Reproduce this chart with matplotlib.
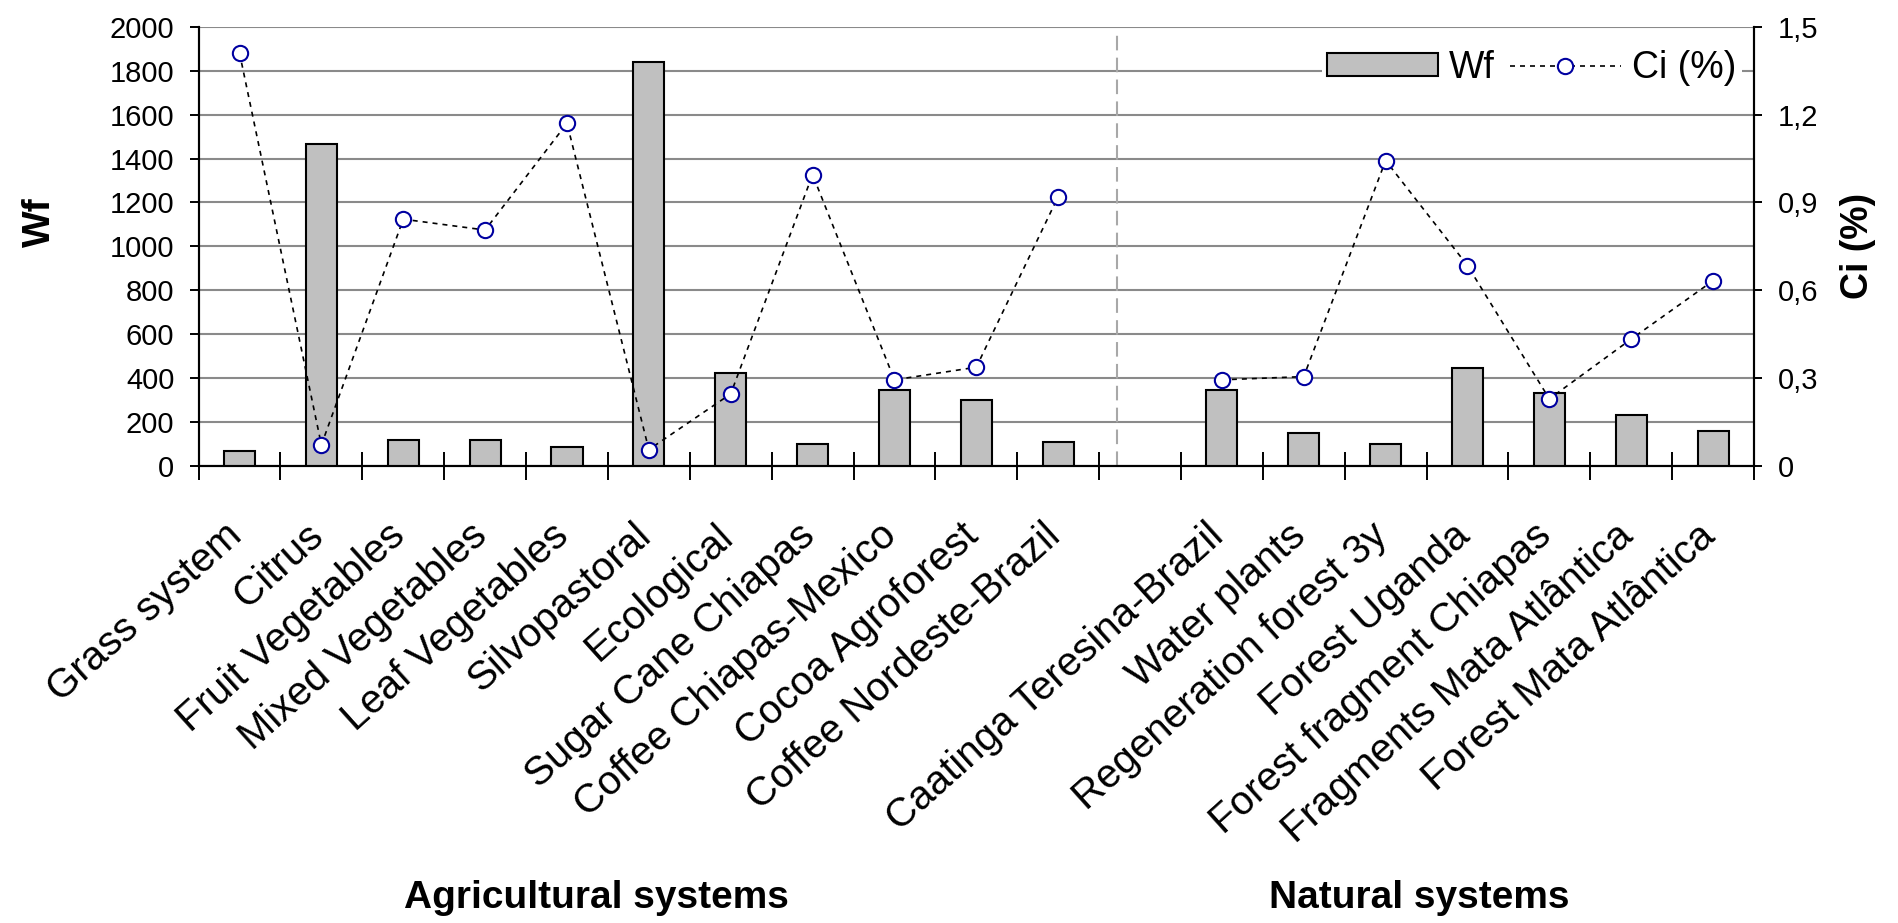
import numpy as np
import matplotlib
matplotlib.use("Agg")
import matplotlib.pyplot as plt
from matplotlib.lines import Line2D
from matplotlib.patches import Patch
from matplotlib.transforms import ScaledTranslation

plt.rcParams['font.family'] = ['Liberation Sans', 'DejaVu Sans']

categories = ["Grass system", "Citrus", "Fruit Vegetables", "Mixed Vegetables",
              "Leaf Vegetables", "Silvopastoral", "Ecological", "Sugar Cane Chiapas",
              "Coffee Chiapas-Mexico", "Cocoa Agroforest", "Coffee Nordeste-Brazil",
              "",
              "Caatinga Teresina-Brazil", "Water plants", "Regeneration forest 3y",
              "Forest Uganda", "Forest fragment Chiapas", "Fragments Mata Atlântica",
              "Forest Mata Atlântica"]
wf = [70, 1465, 120, 120, 90, 1840, 425, 100, 345, 300, 110,
      np.nan,
      345, 150, 100, 445, 335, 235, 160]
ci = [1.41, 0.073, 0.843, 0.806, 1.17, 0.057, 0.247, 0.995, 0.295, 0.338, 0.92,
      np.nan,
      0.295, 0.306, 1.043, 0.685, 0.23, 0.434, 0.633]
wf_ticks = list(range(0, 2001, 200))
ci_ticks = [0, 0.3, 0.6, 0.9, 1.2, 1.5]
ci_tick_labels = ["0", "0,3", "0,6", "0,9", "1,2", "1,5"]
group_labels = ["Agricultural systems", "Natural systems"]

W, H = 1899, 923
fig = plt.figure(figsize=(W / 100, H / 100), dpi=100)
ax = fig.add_axes([198.6 / W, 1 - 466.3 / H, (1754 - 198.6) / W, (466.3 - 26.6) / H])
ax2 = ax.twinx()

x = np.arange(len(categories))
ax.bar(x, wf, width=0.38, color='#C0C0C0', edgecolor='black', linewidth=1.5, zorder=3)
ax.set_xlim(-0.5, len(categories) - 0.5)
ax.set_ylim(0, 2000)
ax.set_yticks(wf_ticks)
ax.yaxis.grid(True, color='#8a8a8a', linewidth=1.5, zorder=0)
ax.set_axisbelow(True)
ax.set_xticks(x)
ax.set_xticklabels(categories, rotation=42, ha='right', va='baseline',
                   rotation_mode='anchor', fontsize=29)
ax.tick_params(axis='x', which='major', length=0, pad=52)
for lab in ax.get_xticklabels():
    lab.set_transform(lab.get_transform() + ScaledTranslation(4 / 100, 0, fig.dpi_scale_trans))
ax.set_xticks(np.arange(-0.5, len(categories)), minor=True)
ax.tick_params(axis='x', which='minor', direction='inout', length=19.5, width=1.4)
ax.tick_params(axis='y', direction='out', length=6.5, width=1.4, labelsize=21, pad=11)
ax.axvline(10.72, ymin=0, ymax=0.985, color='#a8a8a8', linestyle=(0, (7, 3.5)),
           linewidth=1.5, zorder=2)

ax2.plot(x, ci, color='black', linestyle=(0, (3, 3)), linewidth=1.2,
         marker='o', markersize=11, markerfacecolor='white',
         markeredgecolor='#0000a0', markeredgewidth=1.5, zorder=5)
ax2.set_ylim(0, 1.5)
ax2.set_yticks(ci_ticks)
ax2.set_yticklabels(ci_tick_labels)
ax2.tick_params(axis='y', direction='out', length=6, width=1.4, labelsize=21, pad=11)

for a in (ax, ax2):
    a.spines['top'].set_visible(False)
    for s in ('left', 'right', 'bottom'):
        a.spines[s].set_linewidth(1.5)

fig.text(40 / W, 1 - 222 / H, "Wf", rotation=90, fontsize=28, fontweight='bold',
         ha='center', va='center')
fig.text(1858 / W, 1 - 246 / H, "Ci (%)", rotation=90, fontsize=27, fontweight='bold',
         ha='center', va='center')
fig.text(596 / W, 1 - 908 / H, group_labels[0], fontsize=28, fontweight='bold',
         ha='center', va='baseline')
fig.text(1419 / W, 1 - 908 / H, group_labels[1], fontsize=28, fontweight='bold',
         ha='center', va='baseline')

handles = [Patch(facecolor='#C0C0C0', edgecolor='black', linewidth=1.5),
           Line2D([], [], color='black', linestyle=(0, (3, 3)), linewidth=1.2,
                  marker='o', markersize=11, markerfacecolor='white',
                  markeredgecolor='#0000a0', markeredgewidth=1.5)]
leg = ax2.legend(handles, ["Wf", "Ci (%)"], ncol=2, loc='center right',
                 bbox_to_anchor=(1742 / W, 1 - 68 / H), bbox_transform=fig.transFigure,
                 frameon=True, fancybox=False, edgecolor='white', facecolor='white',
                 framealpha=1, fontsize=27, handlelength=2.95, handleheight=0.55,
                 handletextpad=0.3, columnspacing=0.4, borderpad=0.15, borderaxespad=0)
leg.get_frame().set_linewidth(0)

fig.savefig("out.png", dpi=100)
